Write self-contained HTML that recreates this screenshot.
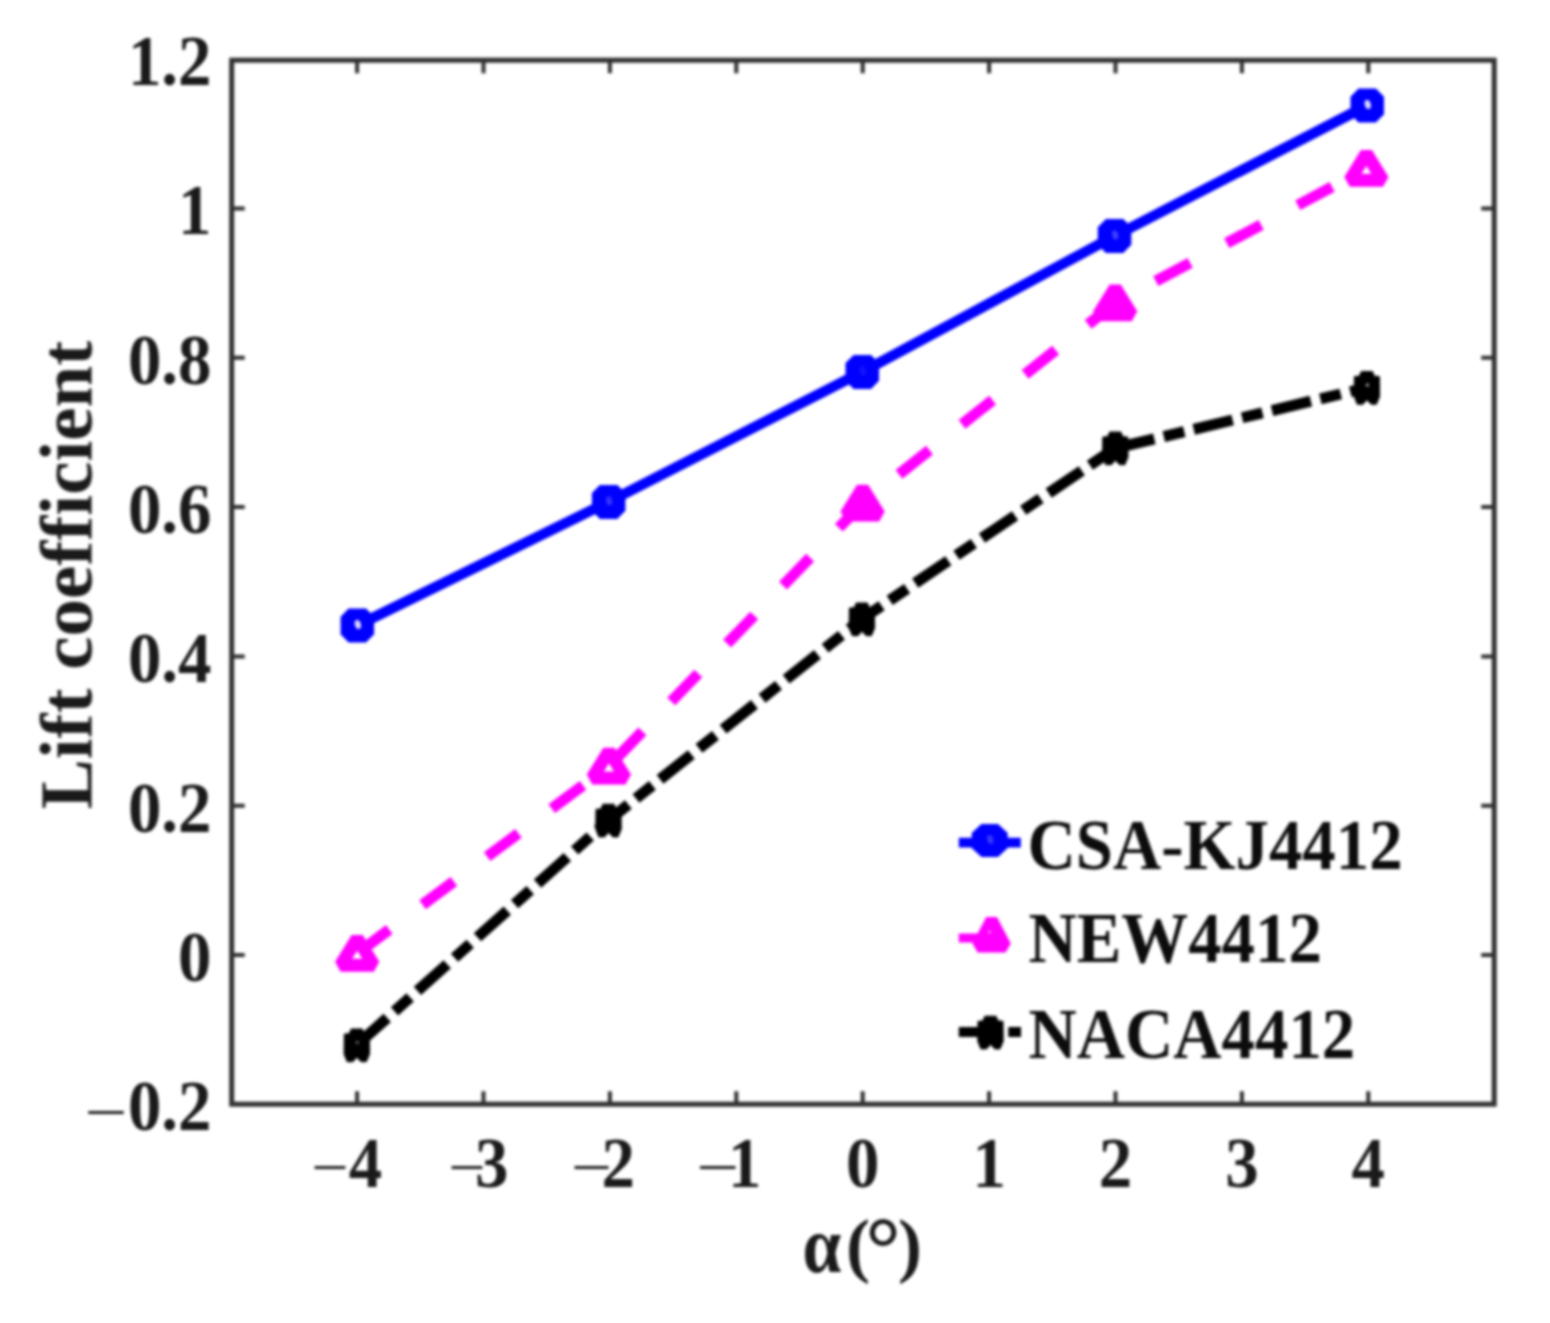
<!DOCTYPE html><html><head><meta charset="utf-8"><title>Lift coefficient</title>
<style>html,body{margin:0;padding:0;background:#fff}svg{display:block}text{font-family:"Liberation Serif","DejaVu Serif",serif;font-weight:bold;fill:#1a1a1a;font-variant-ligatures:none}</style></head><body>
<svg width="1550" height="1323" viewBox="0 0 1550 1323">
<rect width="1550" height="1323" fill="#fff"/>
<g id="chart" style="filter:blur(1.4px)">
<path d="M357.1,1104.2 V1091.2 M357.1,60.2 V73.2 M483.5,1104.2 V1091.2 M483.5,60.2 V73.2 M609.9,1104.2 V1091.2 M609.9,60.2 V73.2 M736.3,1104.2 V1091.2 M736.3,60.2 V73.2 M862.7,1104.2 V1091.2 M862.7,60.2 V73.2 M989.1,1104.2 V1091.2 M989.1,60.2 V73.2 M1115.5,1104.2 V1091.2 M1115.5,60.2 V73.2 M1241.9,1104.2 V1091.2 M1241.9,60.2 V73.2 M1368.3,1104.2 V1091.2 M1368.3,60.2 V73.2 M231.7,955.0 H244.7 M1494.2,955.0 H1481.2 M231.7,805.7 H244.7 M1494.2,805.7 H1481.2 M231.7,656.4 H244.7 M1494.2,656.4 H1481.2 M231.7,507.1 H244.7 M1494.2,507.1 H1481.2 M231.7,357.8 H244.7 M1494.2,357.8 H1481.2 M231.7,208.5 H244.7 M1494.2,208.5 H1481.2" stroke="#303030" stroke-width="4" fill="none"/>
<rect x="231.7" y="60.2" width="1262.5" height="1044.0" fill="none" stroke="#303030" stroke-width="5"/>
<polyline points="357.3,625.5 608.6,501.9 862.3,371.9 1114.6,236.0 1367.2,105.5" fill="none" stroke="#0000ff" stroke-width="10.5" stroke-linejoin="round"/>
<polyline points="357.2,953.4 608.9,766.1 862.6,503.2 1115.2,302.9 1366.4,168.5" fill="none" stroke="#ff00ff" stroke-width="11" stroke-dasharray="39 41.5" stroke-dashoffset="79.5"/>
<polyline points="356.5,1045.3 608.2,820.5 861.6,619.3 1115.0,448.3 1366.6,387.8" fill="none" stroke="#000" stroke-width="11" stroke-dasharray="40 9.75 21 9.75" stroke-dashoffset="79.3"/>
<polygon points="348.6,608.5 366.0,608.5 374.1,616.7 374.1,634.3 366.0,642.5 348.6,642.5 340.6,634.3 340.6,616.7" fill="#0000ff"/><ellipse cx="358.1" cy="624.7" rx="3" ry="4.6" fill="#fff" opacity="0.85" transform="rotate(-15 357.3 625.5)"/>
<polygon points="599.9,484.9 617.3,484.9 625.4,493.1 625.4,510.7 617.3,518.9 599.9,518.9 591.9,510.7 591.9,493.1" fill="#0000ff"/><ellipse cx="609.4" cy="501.1" rx="3" ry="4.6" fill="#fff" opacity="0.2" transform="rotate(-15 608.6 501.9)"/>
<polygon points="853.6,354.9 871.0,354.9 879.0,363.1 879.0,380.7 871.0,388.9 853.6,388.9 845.5,380.7 845.5,363.1" fill="#0000ff"/><ellipse cx="863.1" cy="371.1" rx="3" ry="4.6" fill="#fff" opacity="0.08" transform="rotate(-15 862.3 371.9)"/>
<polygon points="1105.9,219.0 1123.3,219.0 1131.3,227.2 1131.3,244.8 1123.3,253.0 1105.9,253.0 1097.8,244.8 1097.8,227.2" fill="#0000ff"/><ellipse cx="1115.4" cy="235.2" rx="3" ry="4.6" fill="#fff" opacity="0.25" transform="rotate(-15 1114.6 236.0)"/>
<polygon points="1358.5,88.5 1375.9,88.5 1384.0,96.7 1384.0,114.3 1375.9,122.5 1358.5,122.5 1350.5,114.3 1350.5,96.7" fill="#0000ff"/><ellipse cx="1368.0" cy="104.7" rx="3" ry="4.6" fill="#fff" opacity="0.85" transform="rotate(-15 1367.2 105.5)"/>
<polygon points="357.2,938.4 373.8,965.2 340.6,965.2" fill="#fff" stroke="#ff00ff" stroke-width="13" stroke-linejoin="bevel"/>
<polygon points="608.9,751.1 625.5,777.9 592.3,777.9" fill="#fff" stroke="#ff00ff" stroke-width="13" stroke-linejoin="bevel"/>
<polygon points="862.6,488.2 879.2,515.0 846.0,515.0" fill="#ff00ff" stroke="#ff00ff" stroke-width="13" stroke-linejoin="bevel"/>
<polygon points="1115.2,287.9 1131.8,314.7 1098.6,314.7" fill="#ff00ff" stroke="#ff00ff" stroke-width="13" stroke-linejoin="bevel"/>
<polygon points="1366.4,153.5 1383.0,180.3 1349.8,180.3" fill="#fff" stroke="#ff00ff" stroke-width="13" stroke-linejoin="bevel"/>
<polygon points="351.2,1029.0 362.3,1029.0 364.3,1033.7 369.3,1034.1 369.5,1054.1 366.3,1061.7 361.1,1061.7 356.8,1057.3 352.9,1061.7 347.2,1061.7 344.1,1054.1 344.3,1034.1 349.2,1033.7" fill="#000" stroke="#000" stroke-width="1" stroke-linejoin="round"/><circle cx="357.3" cy="1042.5" r="1.8" fill="#fff" opacity="0.35"/>
<polygon points="602.9,804.2 614.0,804.2 616.0,808.9 621.0,809.3 621.2,829.3 618.0,836.9 612.8,836.9 608.5,832.5 604.6,836.9 598.9,836.9 595.8,829.3 596.0,809.3 600.9,808.9" fill="#000" stroke="#000" stroke-width="1" stroke-linejoin="round"/><circle cx="609.0" cy="817.7" r="1.8" fill="#fff" opacity="0"/>
<polygon points="856.3,603.0 867.4,603.0 869.4,607.7 874.4,608.1 874.6,628.1 871.4,635.7 866.2,635.7 861.9,631.3 858.0,635.7 852.3,635.7 849.2,628.1 849.4,608.1 854.3,607.7" fill="#000" stroke="#000" stroke-width="1" stroke-linejoin="round"/><circle cx="862.4" cy="616.5" r="1.8" fill="#fff" opacity="0"/>
<polygon points="1109.7,432.0 1120.8,432.0 1122.8,436.7 1127.8,437.1 1128.0,457.1 1124.8,464.7 1119.6,464.7 1115.3,460.3 1111.4,464.7 1105.7,464.7 1102.6,457.1 1102.8,437.1 1107.7,436.7" fill="#000" stroke="#000" stroke-width="1" stroke-linejoin="round"/><circle cx="1115.8" cy="445.5" r="1.8" fill="#fff" opacity="0"/>
<polygon points="1361.3,371.5 1372.4,371.5 1374.4,376.2 1379.4,376.6 1379.6,396.6 1376.4,404.2 1371.2,404.2 1366.9,399.8 1363.0,404.2 1357.3,404.2 1354.2,396.6 1354.4,376.6 1359.3,376.2" fill="#000" stroke="#000" stroke-width="1" stroke-linejoin="round"/><circle cx="1367.4" cy="385.0" r="1.8" fill="#fff" opacity="0.6"/>
<text transform="translate(88.7,1125.8) scale(0.986,0.85)" font-size="70" style="font-weight:normal">–</text>
<text transform="translate(211.5,1130.1) scale(0.955,1.02)" font-size="70" text-anchor="end">0.2</text>
<text transform="translate(211.5,980.8) scale(0.955,1.02)" font-size="70" text-anchor="end">0</text>
<text transform="translate(211.5,831.5) scale(0.955,1.02)" font-size="70" text-anchor="end">0.2</text>
<text transform="translate(211.5,682.2) scale(0.955,1.02)" font-size="70" text-anchor="end">0.4</text>
<text transform="translate(211.5,532.9) scale(0.955,1.02)" font-size="70" text-anchor="end">0.6</text>
<text transform="translate(211.5,383.6) scale(0.955,1.02)" font-size="70" text-anchor="end">0.8</text>
<text transform="translate(211.5,234.3) scale(0.955,1.02)" font-size="70" text-anchor="end">1</text>
<text transform="translate(211.5,85.0) scale(0.955,1.02)" font-size="70" text-anchor="end">1.2</text>
<text transform="translate(315.0,1180.9) scale(0.857,0.85)" font-size="70" style="font-weight:normal">–</text>
<text transform="translate(348.7,1186.8) scale(0.955,1.02)" font-size="70">4</text>
<text transform="translate(452.0,1180.9) scale(0.857,0.85)" font-size="70" style="font-weight:normal">–</text>
<text transform="translate(475.1,1186.8) scale(0.955,1.02)" font-size="70">3</text>
<text transform="translate(575.0,1180.9) scale(0.943,0.85)" font-size="70" style="font-weight:normal">–</text>
<text transform="translate(601.5,1186.8) scale(0.955,1.02)" font-size="70">2</text>
<text transform="translate(700.5,1180.9) scale(0.986,0.85)" font-size="70" style="font-weight:normal">–</text>
<text transform="translate(727.9,1186.8) scale(0.955,1.02)" font-size="70">1</text>
<text transform="translate(862.7,1186.8) scale(0.955,1.02)" font-size="70" text-anchor="middle">0</text>
<text transform="translate(989.1,1186.8) scale(0.955,1.02)" font-size="70" text-anchor="middle">1</text>
<text transform="translate(1115.5,1186.8) scale(0.955,1.02)" font-size="70" text-anchor="middle">2</text>
<text transform="translate(1241.9,1186.8) scale(0.955,1.02)" font-size="70" text-anchor="middle">3</text>
<text transform="translate(1368.3,1186.8) scale(0.955,1.02)" font-size="70" text-anchor="middle">4</text>
<text transform="translate(802.5,1271.8) scale(0.87,1)" font-size="80">α</text>
<text x="846" y="1269.2" font-size="72">(<tspan font-size="88" dy="8.5" dx="-4.4">°</tspan><tspan dy="-8.5" dx="-2.9">)</tspan></text>
<text transform="translate(91.5,575) rotate(-90)" font-size="75" text-anchor="middle">Lift coefficient</text>
<line x1="958.8" y1="842.6" x2="1020.8" y2="842.6" stroke="#0000ff" stroke-width="9.6"/>
<polygon points="981.4,824.0 998.0,824.0 1007.7,832.9 1007.7,848.1 998.0,857.0 981.4,857.0 971.7,848.1 971.7,832.9" fill="#0000ff"/><ellipse cx="990.5" cy="839.7" rx="3" ry="4.6" fill="#fff" opacity="0.22" transform="rotate(-15 989.7 840.5)"/>
<line x1="958.8" y1="938" x2="1020.8" y2="938" stroke="#ff00ff" stroke-width="9" stroke-dasharray="38 50"/>
<polygon points="991.6,919.9 1005.5,946.4 977.7,946.4" fill="#ff00ff" stroke="#ff00ff" stroke-width="12" stroke-linejoin="bevel"/>
<circle cx="989.6" cy="932" r="1.6" fill="#fff" opacity="0.5"/>
<line x1="958.8" y1="1032" x2="1021" y2="1032" stroke="#000" stroke-width="10" stroke-dasharray="42 7.5 13 10"/>
<polygon points="984.9,1016.2 996.0,1016.2 998.0,1020.9 1003.0,1021.3 1003.2,1041.3 1000.0,1048.9 994.8,1048.9 990.5,1044.5 986.6,1048.9 980.9,1048.9 977.8,1041.3 978.0,1021.3 982.9,1020.9" fill="#000" stroke="#000" stroke-width="1" stroke-linejoin="round"/><circle cx="991.0" cy="1029.7" r="1.8" fill="#fff" opacity="0.0"/>
<text transform="translate(1027.5,869.3) scale(0.955,1.02)" font-size="70" style="fill:#0c0c0c">CSA-KJ4412</text>
<text transform="translate(1028.5,962.2) scale(0.955,1.02)" font-size="70" style="fill:#0c0c0c">NEW4412</text>
<text transform="translate(1028.5,1057.5) scale(0.955,1.02)" font-size="70" style="fill:#0c0c0c">NACA4412</text>
</g></svg></body></html>
